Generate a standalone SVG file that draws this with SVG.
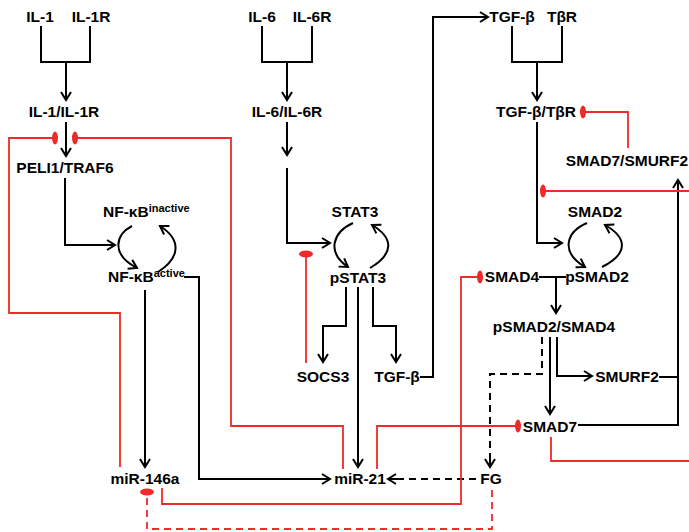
<svg xmlns="http://www.w3.org/2000/svg" width="689" height="532" viewBox="0 0 689 532">
<defs>
<marker id="ah" markerUnits="userSpaceOnUse" markerWidth="14" markerHeight="14" refX="9" refY="6" orient="auto">
<path d="M1,1 L9,6 L1,11" fill="none" stroke="#000" stroke-width="2"/>
</marker>
<style>
text{font-family:"Liberation Sans",Arial,sans-serif;font-weight:bold;font-size:15.5px;fill:#000;text-anchor:middle}
.sup{font-size:11px}
.k{fill:none;stroke:#000;stroke-width:2}
.a{marker-end:url(#ah)}
.d{stroke-dasharray:7,5}
.r{fill:none;stroke:#ee2a2a;stroke-width:1.8}
.inh{fill:#ee2a2a;stroke:none}
</style>
</defs>
<rect width="689" height="532" fill="#fff"/>
<g id="connectors">
<path class="k" d="M41,26 V62 H90 V26"/>
<path class="k a" d="M66,62 V100"/>
<path class="k a" d="M66,122 V156"/>
<path class="k a" d="M65,178 V245 H115"/>
<path class="k a" d="M132,226 C116,234 110,254 137,268"/>
<path class="k a" d="M158,272 C180,258 182,240 160,226"/>
<path class="k a" d="M145,290 V467"/>
<path class="k a" d="M184,277 H199 V479 H330"/>
<path class="k" d="M262,26 V62 H312 V26"/>
<path class="k a" d="M287,62 V100"/>
<path class="k a" d="M287,122 V155"/>
<path class="k a" d="M287,168 V243 H330"/>
<path class="k a" d="M353,223 C333,232 326,252 348,267"/>
<path class="k a" d="M370,268 C394,254 394,238 372,225"/>
<path class="k a" d="M346,287 V326 H323 V362"/>
<path class="k a" d="M358,287 V467"/>
<path class="k a" d="M373,287 V326 H396 V362"/>
<path class="k a" d="M420,377 H433 V17 H488"/>
<path class="k" d="M512,26 V62 H562 V26"/>
<path class="k a" d="M537,62 V100"/>
<path class="k a" d="M537,122 V243 H562"/>
<path class="k a" d="M587,223 C566,232 560,252 585,267"/>
<path class="k a" d="M602,267 C628,254 628,238 605,225"/>
<path class="k" d="M539,277 H566"/>
<path class="k a" d="M556,277 V313"/>
<path class="k d" d="M542,337 V374 H490 V458"/>
<path class="k a" d="M490,455 V467"/>
<path class="k a" d="M550,337 V414"/>
<path class="k a" d="M557,337 V376 H592"/>
<path class="k" d="M659,377 H678"/>
<path class="k a" d="M578,425 H678 V180"/>
<path class="k d" d="M476,479 H396"/>
<path class="k a" d="M398,479 H388"/>
<path class="r" d="M120,467 V313 H9 V138 H55"/>
<path class="r" d="M343,469 V426 H231 V138 H75"/>
<path class="r" d="M306,363 V254"/>
<path class="r" d="M628,148 V112 H583"/>
<path class="r" d="M543,191 H689"/>
<path class="r" d="M551,437 V461 H689"/>
<path class="r" d="M162,488 V504 H461 V277 H480"/>
<path class="r" d="M377,469 V426 H518"/>
<path class="r d" d="M492,490 V529 H147 V492"/>
<ellipse class="inh" cx="55" cy="138" rx="3" ry="6.5"/>
<ellipse class="inh" cx="75" cy="138" rx="3" ry="6.5"/>
<ellipse class="inh" cx="306" cy="254" rx="7" ry="3.5"/>
<ellipse class="inh" cx="583" cy="112" rx="3" ry="6.5"/>
<ellipse class="inh" cx="543" cy="191" rx="3" ry="6.5"/>
<ellipse class="inh" cx="480" cy="277" rx="3" ry="6.5"/>
<ellipse class="inh" cx="518" cy="426" rx="3" ry="6.5"/>
<ellipse class="inh" cx="147" cy="492" rx="7" ry="3.5"/>
</g>
<g id="IL-1"><text x="40" y="22">IL-1</text></g>
<g id="IL-1R"><text x="91" y="22">IL-1R</text></g>
<g id="IL-1_IL-1R"><text x="64" y="117">IL-1/IL-1R</text></g>
<g id="PELI1_TRAF6"><text x="65" y="173">PELI1/TRAF6</text></g>
<g id="NFkB_inactive"><text x="103" y="217" style="text-anchor:start">NF-κB<tspan class="sup" dy="-5">inactive</tspan></text></g>
<g id="NFkB_active"><text x="108" y="282" style="text-anchor:start">NF-κB<tspan class="sup" dy="-5">active</tspan></text></g>
<g id="miR-146a"><text x="145" y="484">miR-146a</text></g>
<g id="IL-6"><text x="262" y="22">IL-6</text></g>
<g id="IL-6R"><text x="312" y="22">IL-6R</text></g>
<g id="IL-6_IL-6R"><text x="287" y="117">IL-6/IL-6R</text></g>
<g id="STAT3"><text x="355" y="217">STAT3</text></g>
<g id="pSTAT3"><text x="358" y="283">pSTAT3</text></g>
<g id="SOCS3"><text x="323" y="382">SOCS3</text></g>
<g id="TGF-b_low"><text x="397" y="382">TGF-β</text></g>
<g id="miR-21"><text x="360" y="484">miR-21</text></g>
<g id="TGF-b"><text x="512" y="22">TGF-β</text></g>
<g id="TbR"><text x="562" y="22">TβR</text></g>
<g id="TGF-b_TbR"><text x="536" y="117">TGF-β/TβR</text></g>
<g id="SMAD7_SMURF2"><text x="627" y="166">SMAD7/SMURF2</text></g>
<g id="SMAD2"><text x="595" y="217">SMAD2</text></g>
<g id="pSMAD2"><text x="597" y="282">pSMAD2</text></g>
<g id="SMAD4"><text x="512" y="282">SMAD4</text></g>
<g id="pSMAD2_SMAD4"><text x="554" y="332">pSMAD2/SMAD4</text></g>
<g id="SMURF2"><text x="627" y="382">SMURF2</text></g>
<g id="SMAD7"><text x="550" y="432">SMAD7</text></g>
<g id="FG"><text x="491" y="484">FG</text></g>
</svg>
